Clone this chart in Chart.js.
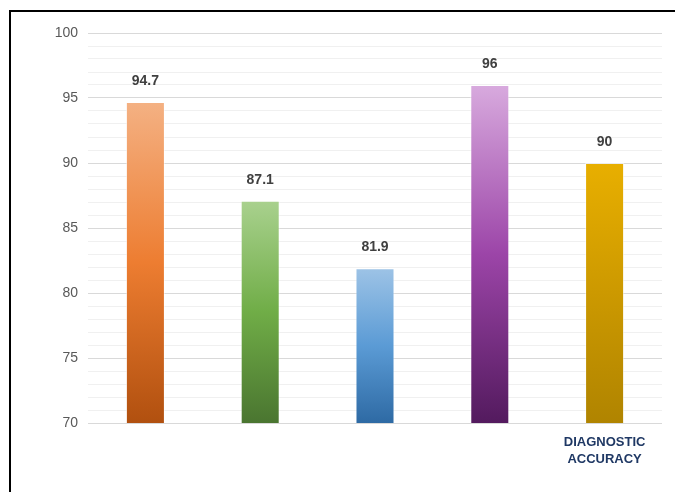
<!DOCTYPE html>
<html>
<head>
<meta charset="utf-8">
<script src="https://cdn.jsdelivr.net/npm/chart.js@4.4.0/dist/chart.umd.min.js"></script>
<style>
  html, body { margin: 0; padding: 0; background: #fff; }
  #wrap { position: relative; width: 675px; height: 492px; }
</style>
</head>
<body>
<div id="wrap"><canvas id="accuracy" width="675" height="492"></canvas></div>
<script>
// values
var categories = ['', '', '', '', ['DIAGNOSTIC', 'ACCURACY']];
var accuracy = [94.7, 87.1, 81.9, 96, 90];
var valueLabels = ['94.7', '87.1', '81.9', '96', '90'];
var yTicks = [70, 75, 80, 85, 90, 95, 100];

// top / middle / bottom colour of each bar's gradient
var barStops = [
  ['#F4B183', '#ED7D31', '#B1500F'],
  ['#A9D18E', '#70AD47', '#4A7530'],
  ['#9DC3E6', '#5B9BD5', '#2E6AA4'],
  ['#D8AADE', '#9C45A8', '#531A5E'],
  ['#E8AF00', '#CC9900', '#B08400']
];

var narrowFont = '"Liberation Sans Narrow", "Arial Narrow", "Liberation Sans", sans-serif';

function barGradient(context) {
  var chart = context.chart;
  if (!chart.chartArea) return barStops[context.dataIndex][1];
  var y = chart.scales.y;
  var top = y.getPixelForValue(context.raw);
  var bottom = y.getPixelForValue(y.min);
  var g = chart.ctx.createLinearGradient(0, top, 0, bottom);
  var s = barStops[context.dataIndex];
  g.addColorStop(0, s[0]);
  g.addColorStop(0.5, s[1]);
  g.addColorStop(1, s[2]);
  return g;
}

// outer black frame
const framePlugin = {
  id: 'frame',
  afterDraw(chart) {
    const c = chart.ctx;
    c.save();
    c.strokeStyle = '#000';
    c.lineWidth = 2;
    c.beginPath();
    c.moveTo(10, 492);
    c.lineTo(10, 11);
    c.lineTo(675, 11);
    c.stroke();
    c.restore();
  }
};

// numbers above bars
const valuePlugin = {
  id: 'values',
  afterDatasetsDraw(chart) {
    const c = chart.ctx;
    const meta = chart.getDatasetMeta(0);
    c.save();
    c.font = 'bold 14px ' + narrowFont;
    c.fillStyle = '#404040';
    c.textAlign = 'center';
    c.textBaseline = 'middle';
    meta.data.forEach(function (bar, i) {
      c.fillText(valueLabels[i], bar.x, bar.y - 21);
    });
    c.restore();
  }
};

const ctx = document.getElementById('accuracy').getContext('2d');

new Chart(ctx, {
  type: 'bar',
  data: {
    labels: categories,
    datasets: [{
      data: accuracy,
      backgroundColor: barGradient,
      borderColor: 'rgba(255,255,255,0.5)',
      borderWidth: 1,
      categoryPercentage: 1,
      barPercentage: 0.34
    }]
  },
  options: {
    responsive: false,
    animation: false,
    layout: { padding: { left: 0, right: 13, top: 33, bottom: 0 } },
    plugins: {
      legend: { display: false },
      tooltip: { enabled: false }
    },
    scales: {
      x: {
        grid: { display: false },
        border: { display: false },
        ticks: {
          color: '#1F3864',
          padding: 3,
          maxRotation: 0,
          autoSkip: false,
          font: { family: narrowFont, size: 13, weight: 'bold', lineHeight: 1.3 }
        },
        afterFit(scale) { scale.height = 69; }
      },
      y: {
        min: 70,
        max: 100,
        border: { display: false },
        grid: {
          drawTicks: false,
          lineWidth: 1,
          color(c) {
            if (c.tick && yTicks.indexOf(c.tick.value) >= 0) return '#D9D9D9';
            return '#F0F0F0';
          }
        },
        ticks: {
          stepSize: 1,
          autoSkip: false,
          padding: 10,
          color: '#595959',
          font: { family: narrowFont, size: 14 },
          callback(v) { return yTicks.indexOf(v) >= 0 ? v : ''; }
        },
        afterFit(scale) { scale.width = 88; }
      }
    }
  },
  plugins: [framePlugin, valuePlugin]
});
</script>
</body>
</html>
